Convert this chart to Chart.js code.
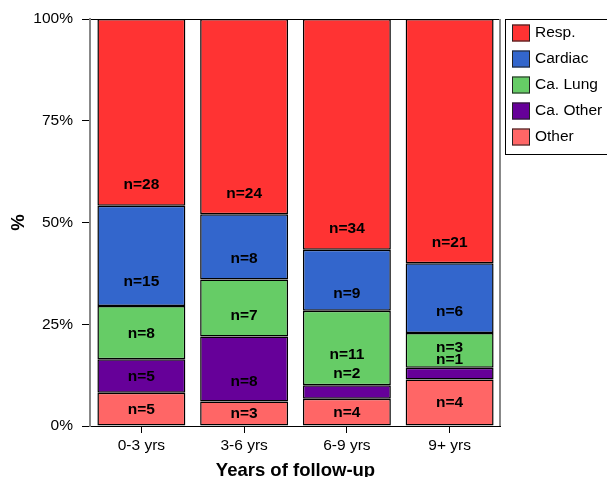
<!DOCTYPE html>
<html>
<head>
<meta charset="utf-8">
<script src="https://cdn.jsdelivr.net/npm/chart.js@4.4.0/dist/chart.umd.min.js"></script>
<style>
  html, body { margin: 0; padding: 0; background: #fff; overflow: hidden; }
  canvas { display: block; }
</style>
</head>
<body>
<canvas id="chart" width="607" height="477"></canvas>
<script>
const categories = ['0-3 yrs', '3-6 yrs', '6-9 yrs', '9+ yrs'];

// deaths per cause, bottom of the stack first
const otherN   = [5, 3, 4, 4];
const caOtherN = [5, 8, 2, 1];
const caLungN  = [8, 7, 11, 3];
const cardiacN = [15, 8, 9, 6];
const respN    = [28, 24, 34, 21];

// height (in % of axis) where each n= label sits
const otherLab   = [4.1, 2.9, 3.3, 5.6];
const caOtherLab = [12.1, 10.8, 12.9, 16.2];
const caLungLab  = [22.6, 27.0, 17.6, 19.3];
const cardiacLab = [35.5, 41.0, 32.4, 28.1];
const respLab    = [59.2, 57.1, 48.4, 45.0];

const yTicks = [0, 25, 50, 75, 100];

const FONT = "'Liberation Sans', Arial, sans-serif";
Chart.defaults.font.family = FONT;
Chart.defaults.color = '#000';

const series = [
  { label: 'Other',     n: otherN,   pos: otherLab,   color: '#FF6666' },
  { label: 'Ca. Other', n: caOtherN, pos: caOtherLab, color: '#660099' },
  { label: 'Ca. Lung',  n: caLungN,  pos: caLungLab,  color: '#66CC66' },
  { label: 'Cardiac',   n: cardiacN, pos: cardiacLab, color: '#3366CC' },
  { label: 'Resp.',     n: respN,    pos: respLab,    color: '#FF3333' },
];

const totals = categories.map(function (c, i) {
  let s = 0;
  for (let k = 0; k < series.length; k++) s += series[k].n[i];
  return s;
});

const datasets = series.map(function (s) {
  return {
    label: s.label,
    data: s.n.map(function (v, i) { return v / totals[i] * 100; }),
    backgroundColor: s.color,
    borderColor: '#000',
    borderWidth: 1.5,
    borderSkipped: false,
    barPercentage: 0.856,
    categoryPercentage: 1,
  };
});

// n= labels, right border line and the boxed legend
const extrasPlugin = {
  id: 'extras',
  afterDatasetsDraw: function (chart) {
    const ctx = chart.ctx;
    const yScale = chart.scales.y;
    const area = chart.chartArea;
    ctx.save();

    ctx.font = 'bold 15.5px ' + FONT;
    ctx.fillStyle = '#000';
    ctx.textAlign = 'center';
    ctx.textBaseline = 'middle';
    for (let k = 0; k < series.length; k++) {
      const meta = chart.getDatasetMeta(k);
      for (let i = 0; i < categories.length; i++) {
        const x = meta.data[i].x;
        const y = yScale.getPixelForValue(series[k].pos[i]);
        ctx.fillText('n=' + series[k].n[i], x, y);
      }
    }

    ctx.strokeStyle = '#888';
    ctx.lineWidth = 2;
    ctx.beginPath();
    ctx.moveTo(area.right - 1, area.top);
    ctx.lineTo(area.right - 1, area.bottom);
    ctx.stroke();

    // legend box
    ctx.strokeStyle = '#000';
    ctx.lineWidth = 1;
    ctx.strokeRect(505.5, 19.5, 140, 135);
    ctx.font = '15.5px ' + FONT;
    ctx.textAlign = 'left';
    for (let j = 0; j < series.length; j++) {
      const s = series[series.length - 1 - j];
      const cy = 33 + j * 26;
      ctx.fillStyle = s.color;
      ctx.fillRect(512, cy - 8.5, 18, 17);
      ctx.strokeStyle = '#222';
      ctx.strokeRect(512.5, cy - 8, 17, 16);
      ctx.fillStyle = '#000';
      ctx.fillText(s.label, 535, cy);
    }
    ctx.restore();
  }
};

new Chart(document.getElementById('chart').getContext('2d'), {
  type: 'bar',
  data: { labels: categories, datasets: datasets },
  options: {
    responsive: false,
    animation: false,
    layout: { padding: { top: 19, right: 106, left: 0, bottom: 0 } },
    plugins: { legend: { display: false }, tooltip: { enabled: false } },
    scales: {
      x: {
        stacked: true,
        afterFit: function (scale) { scale.height = 51; },
        grid: { offset: false, drawOnChartArea: false, tickLength: 7, tickColor: '#000' },
        border: { display: false },
        ticks: { font: { size: 15.5 }, padding: 3, color: '#000' },
        title: {
          display: true, text: 'Years of follow-up',
          font: { size: 18.5, weight: 'bold', lineHeight: 0.7 },
          padding: 0, color: '#000'
        },
      },
      y: {
        stacked: true,
        min: 0, max: 100,
        afterFit: function (scale) { scale.width = 90; },
        afterBuildTicks: function (scale) {
          scale.ticks = yTicks.map(function (v) { return { value: v }; });
        },
        grid: {
          color: function (c) {
            return (c.tick && (c.tick.value === 0 || c.tick.value === 100)) ? '#000' : 'rgba(0,0,0,0)';
          },
          tickColor: '#000',
          tickLength: 8,
        },
        border: { display: true, color: '#888', width: 2 },
        ticks: {
          font: { size: 15.5 }, padding: 9, color: '#000',
          callback: function (v) { return v + '%'; }
        },
        title: {
          display: true, text: '%',
          font: { size: 18.5, weight: 'bold' },
          padding: { top: 8 }, color: '#000'
        },
      },
    },
  },
  plugins: [extrasPlugin],
});
</script>
</body>
</html>
